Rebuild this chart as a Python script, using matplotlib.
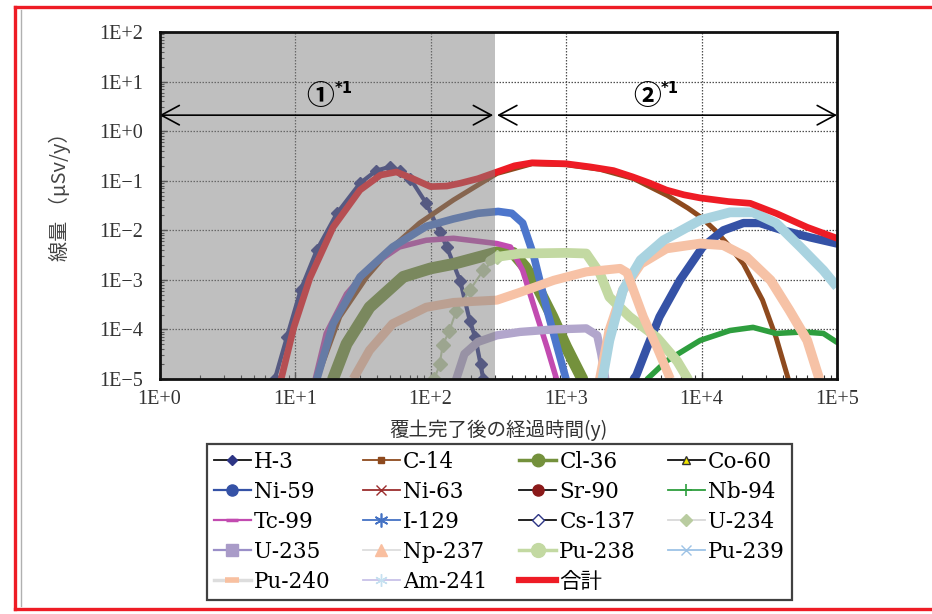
import matplotlib
matplotlib.use('Agg')
import matplotlib.pyplot as plt
from matplotlib.lines import Line2D

# ---------------- data (years, μSv/y) ----------------
h3_t = [7.1, 8.7, 11, 14.5, 20.4, 30.2, 39.8, 50, 60, 71, 93, 117, 132, 166, 195, 214, 234, 245]
h3_d = [1.0e-5, 6.9e-5, 6.2e-4, 4.0e-3, 2.2e-2, 8.9e-2, 0.16, 0.19, 0.16, 0.11, 3.5e-2, 9.3e-3, 4.6e-3, 9.3e-4, 1.5e-4, 6.9e-5, 2.0e-5, 1.0e-5]

c14_t = [14.5, 21.4, 33.9, 52.5, 83, 148, 309, 562, 1000, 1780, 3160, 5620, 7940, 10000, 12600, 15800, 20400, 28200, 35500, 43700]
c14_d = [1.0e-5, 1.8e-4, 1.15e-3, 4.6e-3, 1.4e-2, 4.1e-2, 0.14, 0.22, 0.21, 0.17, 0.11, 5.0e-2, 2.8e-2, 1.8e-2, 1.0e-2, 5.0e-3, 2.1e-3, 3.9e-4, 6.9e-5, 1.0e-5]

cl36_t = [19.1, 24.0, 35.5, 63, 100, 148, 309, 407, 501, 631, 794, 1000, 1320]
cl36_d = [1.0e-5, 5.1e-5, 2.8e-4, 1.15e-3, 1.7e-3, 2.1e-3, 3.6e-3, 3.5e-3, 1.8e-3, 6.3e-4, 1.8e-4, 4.5e-5, 1.0e-5]

co60_t, co60_d = [], []

ni59_t = [3160, 3310, 3980, 4900, 6920, 10200, 14500, 20400, 26900, 39800, 63100, 100000]
ni59_d = [1.0e-5, 1.2e-5, 4.4e-5, 1.8e-4, 9.8e-4, 4.6e-3, 1.0e-2, 1.4e-2, 1.4e-2, 1.0e-2, 7.2e-3, 5.4e-3]

ni63_t, ni63_d = [], []
sr90_t, sr90_d = [], []

nb94_t = [3980, 5500, 9770, 16200, 24000, 35500, 56200, 79400, 100000]
nb94_d = [1.0e-5, 2.3e-5, 6.0e-5, 9.5e-5, 1.1e-4, 8.3e-5, 8.9e-5, 8.3e-5, 5.5e-5]

tc99_t = [14.1, 17.0, 24.0, 35.5, 58.9, 93, 148, 309, 389, 479, 603, 724, 851]
tc99_d = [1.0e-5, 8.3e-5, 5.2e-4, 1.8e-3, 4.6e-3, 6.3e-3, 6.9e-3, 5.4e-3, 4.6e-3, 1.55e-3, 2.1e-4, 4.4e-5, 1.0e-5]

i129_t = [14.5, 19.1, 30.2, 52.5, 93, 148, 224, 316, 398, 479, 575, 724, 912, 1000]
i129_d = [1.0e-5, 1.3e-4, 1.15e-3, 4.6e-3, 1.2e-2, 1.7e-2, 2.2e-2, 2.4e-2, 2.2e-2, 1.4e-2, 3.2e-3, 2.5e-4, 2.5e-5, 1.0e-5]

cs137_t, cs137_d = [], []

u234_t = [107, 117, 123, 138, 155, 195, 245, 309]
u234_d = [1.0e-5, 2.0e-5, 4.8e-5, 9.5e-5, 2.4e-4, 6.2e-4, 1.55e-3, 2.9e-3]

u235_t = [155, 178, 224, 309, 457, 813, 1410, 1700, 1820, 1950]
u235_d = [1.0e-5, 3.2e-5, 5.6e-5, 7.6e-5, 8.9e-5, 1.0e-4, 1.05e-4, 7.6e-5, 3.2e-5, 1.0e-5]

np237_t = [1780, 2090, 2630, 3550, 5500, 9770, 14500, 21400, 32400, 44700, 60300, 74100]
np237_d = [1.0e-5, 9.5e-5, 6.2e-4, 2.1e-3, 4.3e-3, 5.4e-3, 5.0e-3, 2.9e-3, 9.8e-4, 2.4e-4, 6.0e-5, 1.0e-5]

pu238_t = [275, 309, 457, 1000, 1410, 1780, 2090, 2950, 4680, 6610, 7940]
pu238_d = [2.4e-3, 2.9e-3, 3.4e-3, 3.5e-3, 3.4e-3, 1.35e-3, 4.5e-4, 1.8e-4, 6.9e-5, 2.3e-5, 1.0e-5]

pu239_t = [1860, 2090, 2630, 3550, 5250, 9770, 16200, 24000, 35500, 53700, 79400, 100000]
pu239_d = [1.0e-5, 6.0e-5, 6.2e-4, 2.5e-3, 6.3e-3, 1.6e-2, 2.3e-2, 2.3e-2, 1.4e-2, 4.6e-3, 1.55e-3, 7.2e-4]

pu240_t = [26.9, 35.5, 52.5, 93, 148, 309, 457, 813, 1410, 2510, 2820, 3090, 3720, 4680, 5890]
pu240_d = [1.0e-5, 3.8e-5, 1.3e-4, 2.8e-4, 3.5e-4, 3.9e-4, 5.6e-4, 9.8e-4, 1.45e-3, 1.7e-3, 1.4e-3, 7.1e-4, 1.8e-4, 4.4e-5, 1.0e-5]

am241_t, am241_d = [], []

total_t = [7.9, 9.8, 12.9, 19.1, 30.2, 42.7, 56, 74, 100, 132, 166, 224, 309, 417, 562, 1000,
           1510, 2240, 3090, 4170, 5500, 7410, 9770, 15800, 22900, 35500, 60300, 100000]
total_d = [1.0e-5, 1.1e-4, 1.1e-3, 1.15e-2, 6.5e-2, 0.13, 0.15, 0.11, 7.6e-2, 7.8e-2, 8.9e-2, 0.11, 0.15, 0.20, 0.23, 0.22,
           0.19, 0.16, 0.12, 8.9e-2, 6.5e-2, 5.2e-2, 4.5e-2, 3.8e-2, 3.5e-2, 2.2e-2, 1.15e-2, 6.9e-3]

x_ticks = [1, 10, 100, 1000, 10000, 100000]
x_ticklabels = ['1E+0', '1E+1', '1E+2', '1E+3', '1E+4', '1E+5']
y_ticks = [1e-5, 1e-4, 1e-3, 1e-2, 1e-1, 1, 10, 100]
y_ticklabels = ['1E\u22125', '1E\u22124', '1E\u22123', '1E\u22122', '1E\u22121', '1E+0', '1E+1', '1E+2']

xlabel = '覆土完了後の経過時間(y)'
ylabel = '線量 （μSv/y）'
period_end = 300  # end of period ①

# ---------------- figure ----------------
FW, FH = 932, 614
fig = plt.figure(figsize=(FW / 100, FH / 100), dpi=100)
fig.patch.set_facecolor('white')

def fx(px):
    return px / FW

def fy(py):
    return 1 - py / FH

ax = fig.add_axes([fx(159.5), fy(379), fx(837) - fx(159.5), fy(32) - fy(379)])
ax.set_xscale('log')
ax.set_yscale('log')
ax.set_xlim(1, 1e5)
ax.set_ylim(1e-5, 1e2)

ax.grid(True, which='major', linestyle=(0, (1.2, 1.2)), color='#505050', linewidth=0.9)
ax.set_axisbelow(True)

# curves (legend order -> later drawn on top)
ax.plot(h3_t, h3_d, color='#2D3585', lw=3.0, marker='D', ms=6.5, zorder=2)
ax.plot(c14_t, c14_d, color='#8E4A1E', lw=3.6, solid_capstyle='round', zorder=2)
ax.plot(cl36_t, cl36_d, color='#74913C', lw=8.5, solid_capstyle='round', zorder=2)
ax.plot(co60_t, co60_d, color='black', lw=1)
ax.plot(ni59_t, ni59_d, color='#3552A6', lw=6, solid_capstyle='round', zorder=2)
ax.plot(ni63_t, ni63_d, color='#9B2D2D', lw=1)
ax.plot(sr90_t, sr90_d, color='#8B1A1A', lw=1)
ax.plot(nb94_t, nb94_d, color='#2E9E3E', lw=4, solid_capstyle='round', zorder=2)
ax.plot(tc99_t, tc99_d, color='#C24BB0', lw=4, solid_capstyle='butt', zorder=2)
ax.plot(i129_t, i129_d, color='#4D76CC', lw=5.5, solid_capstyle='butt', zorder=2)
ax.plot(cs137_t, cs137_d, color='#2D3585', lw=1)
ax.plot(u234_t, u234_d, color='#B9CCA0', lw=1.5, marker='D', ms=7, zorder=2)
ax.plot(u235_t, u235_d, color='#B2A6CC', lw=6, solid_capstyle='round', zorder=2)
ax.plot(np237_t, np237_d, color='#F6C2A6', lw=7, solid_capstyle='butt', zorder=2)
ax.plot(pu238_t, pu238_d, color='#C3D9A2', lw=7, solid_capstyle='round', zorder=2)
ax.plot(pu239_t, pu239_d, color='#A9D3E0', lw=7, solid_capstyle='butt', zorder=2)
ax.plot(pu240_t, pu240_d, color='#F7C2A6', lw=6.5, solid_capstyle='butt', zorder=2)
ax.plot(am241_t, am241_d, color='#C8C2E8', lw=1)
ax.plot(total_t, total_d, color='#EE1C25', lw=4.8, solid_capstyle='round', zorder=3)

# gray overlay for period ①
ax.axvspan(1, period_end, facecolor='#808080', alpha=0.5, lw=0, zorder=4)

# arrows and period labels
arrow_y = 2.1
ap = dict(arrowstyle='<->,head_length=1.3,head_width=0.7', color='black', lw=1.2,
          shrinkA=0, shrinkB=0)
ax.annotate('', xy=(1, arrow_y), xytext=(290, arrow_y), arrowprops=ap, zorder=6)
ax.annotate('', xy=(1e5, arrow_y), xytext=(310, arrow_y), arrowprops=ap, zorder=6)
ax.text(15.3, 4.9, '①', fontsize=20, fontfamily=['Noto Sans CJK JP', 'DejaVu Sans'],
        fontweight='bold', ha='center', va='center', zorder=6)
ax.text(23.0, 7.4, '*1', fontsize=10.5, fontfamily='DejaVu Sans', fontweight='bold',
        ha='center', va='center', zorder=6)
ax.text(3980, 4.9, '②', fontsize=20, fontfamily=['Noto Sans CJK JP', 'DejaVu Sans'],
        fontweight='bold', ha='center', va='center', zorder=6)
ax.text(5850, 7.4, '*1', fontsize=10.5, fontfamily='DejaVu Sans', fontweight='bold',
        ha='center', va='center', zorder=6)

# spines & ticks
for s in ax.spines.values():
    s.set_linewidth(2.0)
    s.set_color('#111111')
    s.set_zorder(10)
ax.tick_params(which='both', direction='in', top=False, right=False, color='#333333')
ax.tick_params(which='major', length=5, width=1)
ax.tick_params(which='minor', length=3, width=0.8)
ax.set_xticks(x_ticks)
ax.set_xticklabels(x_ticklabels, fontfamily='Liberation Serif', fontsize=14.5, color='#333333')
ax.set_yticks(y_ticks)
ax.set_yticklabels(y_ticklabels, fontfamily='Liberation Serif', fontsize=14.5, color='#333333')
ax.tick_params(axis='x', which='major', pad=8)
ax.tick_params(axis='y', which='major', pad=12)

fig.text(fx(60), fy(192), ylabel, rotation=90, ha='center', va='center', fontsize=14.5,
         fontfamily=['Noto Sans CJK JP', 'DejaVu Sans'], color='#444444')
fig.text(fx(498), fy(430), xlabel, ha='center', va='center', fontsize=14,
         fontfamily=['Noto Sans CJK JP', 'DejaVu Sans'], color='#333333')

# legend proxies (row-major order in reference -> column-major order for matplotlib)
def mk(label, lc, lw, marker=None, ms=6, mfc=None, mec=None, mew=1.0):
    return Line2D([], [], color=lc, lw=lw, marker=marker, ms=ms,
                  mfc=mfc if mfc else lc, mec=mec if mec else (mfc if mfc else lc),
                  mew=mew, label=label)

ast = (6, 2, 0)
entries = {
    'H-3': mk('H-3', '#111111', 1.3, 'D', 5, '#2D3585'),
    'C-14': mk('C-14', '#8E4A1E', 1.3, 's', 5),
    'Cl-36': mk('Cl-36', '#74913C', 2.5, 'o', 9),
    'Co-60': mk('Co-60', '#111111', 1.3, '^', 6, '#F2E600', '#333333'),
    'Ni-59': mk('Ni-59', '#3552A6', 1.6, 'o', 8),
    'Ni-63': mk('Ni-63', '#9B2D2D', 1.3, 'x', 7, mew=1.0),
    'Sr-90': mk('Sr-90', '#111111', 1.3, 'o', 8, '#8B1A1A'),
    'Nb-94': mk('Nb-94', '#2E9E3E', 1.3, '+', 8, mew=1.2),
    'Tc-99': mk('Tc-99', '#C24BB0', 1.6, '_', 9, mew=2.5),
    'I-129': mk('I-129', '#4472C4', 1.3, ast, 10, mew=1.2),
    'Cs-137': mk('Cs-137', '#111111', 1.3, 'D', 6, 'white', '#2D3585'),
    'U-234': mk('U-234', '#D9D9D9', 1.3, 'D', 6, '#B9CCA0'),
    'U-235': mk('U-235', '#9A8FC8', 1.6, 's', 8, '#A99BC8'),
    'Np-237': mk('Np-237', '#DDDDDD', 1.3, '^', 8, '#F9BFA0'),
    'Pu-238': mk('Pu-238', '#C3D9A2', 2.5, 'o', 10),
    'Pu-239': mk('Pu-239', '#9DC3E6', 1.3, 'x', 7, mew=1.0),
    'Pu-240': mk('Pu-240', '#DDDDDD', 2.5, '_', 10, '#F8C0A0', mew=4),
    'Am-241': mk('Am-241', '#C8C2E8', 1.3, ast, 9, '#C5E0F0', mew=1.0),
    '合計': mk('合計', '#EE1C25', 4.5),
}
col_order = ['H-3', 'Ni-59', 'Tc-99', 'U-235', 'Pu-240',
             'C-14', 'Ni-63', 'I-129', 'Np-237', 'Am-241',
             'Cl-36', 'Sr-90', 'Cs-137', 'Pu-238', '合計',
             'Co-60', 'Nb-94', 'U-234', 'Pu-239']
handles = [entries[k] for k in col_order]
leg = fig.legend(handles=handles, labels=col_order, ncol=4, loc='upper left',
                 bbox_to_anchor=(fx(207), fy(444)), borderaxespad=0,
                 prop={'family': ['DejaVu Serif', 'Noto Sans CJK JP'], 'size': 15.5},
                 handlelength=1.72, handletextpad=0.15, columnspacing=1.48,
                 labelspacing=0.37, borderpad=0.32, fancybox=False, frameon=True)
leg.get_frame().set_edgecolor('#111111')
leg.get_frame().set_linewidth(1.6)

# outer red border and thin gray line
for (x0, y0, x1, y1) in [(15, 7, FW, 7), (15, 7, 15, 609), (15, 609, FW, 609)]:
    fig.add_artist(Line2D([fx(x0), fx(x1)], [fy(y0), fy(y1)], transform=fig.transFigure,
                          color='#EE1C25', lw=2.4))
fig.add_artist(Line2D([fx(20.5), fx(20.5)], [fy(10), fy(606)], transform=fig.transFigure,
                      color='#B0B0B0', lw=1.0))

fig.savefig('out.png', dpi=100)
